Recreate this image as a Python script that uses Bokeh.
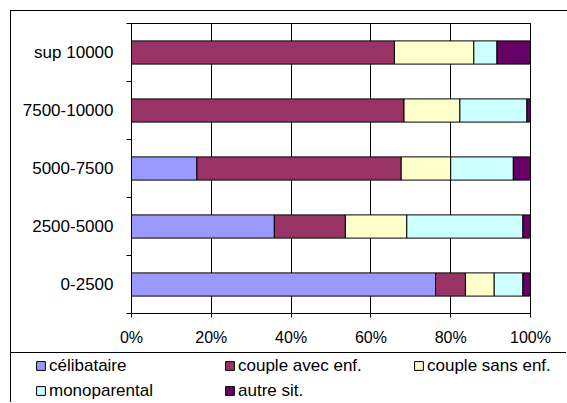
from bokeh.plotting import figure
from bokeh.layouts import column
from bokeh.models import (ColumnDataSource, FixedTicker, Legend, LegendItem,
                          Range1d, PrintfTickFormatter, LinearAxis)
from bokeh.embed import file_html
from bokeh.resources import INLINE

categories = ["0-2500", "2500-5000", "5000-7500", "7500-10000", "sup 10000"]
series = ["célibataire", "couple avec enf.", "couple sans enf.", "monoparental", "autre sit."]
celibataire = [76.2, 35.8, 16.4, 0.0, 0.0]
couple_avec = [7.5, 17.8, 51.2, 68.3, 65.9]
couple_sans = [7.2, 15.4, 12.4, 14.0, 19.9]
monoparental = [7.2, 29.1, 15.7, 16.8, 5.8]
autre = [1.9, 1.9, 4.3, 0.9, 8.4]
x_ticks = [0, 20, 40, 60, 80, 100]
colors = ["#9999FF", "#993366", "#FFFFCC", "#CCFFFF", "#660066"]

FONT = "Liberation Sans"

ypos = [i + 0.5 for i in range(len(categories))]
keys = ["s0", "s1", "s2", "s3", "s4"]
source = ColumnDataSource(dict(y=ypos, s0=celibataire, s1=couple_avec, s2=couple_sans,
                               s3=monoparental, s4=autre))

p = figure(width=556, height=341, output_backend="svg", toolbar_location=None,
           x_range=Range1d(0, 100), y_range=Range1d(0, len(categories)),
           min_border_left=120, min_border_right=37, min_border_top=12, min_border_bottom=39)
p.background_fill_color = "white"
p.border_fill_color = "white"
p.outline_line_color = "black"
p.outline_line_width = 1

p.hbar_stack(keys, y="y", height=0.4, color=colors, line_color="black",
             line_width=1, source=source)

# x axis
p.xaxis.ticker = FixedTicker(ticks=x_ticks, minor_ticks=[])
p.xaxis.formatter = PrintfTickFormatter(format="%d%%")
p.xaxis.axis_line_color = "black"
p.xaxis.major_tick_line_color = "black"
p.xaxis.major_tick_out = 4
p.xaxis.major_tick_in = 0
p.xaxis.major_label_standoff = 11
p.xaxis.major_label_text_font = FONT
p.xaxis.major_label_text_font_size = "16px"
p.xaxis.major_label_text_color = "black"

# y axis: labels at centres, tick marks at boundaries
p.yaxis.ticker = FixedTicker(ticks=ypos, minor_ticks=list(range(len(categories) + 1)))
p.yaxis.major_label_overrides = {y: c for y, c in zip(ypos, categories)}
p.yaxis.major_tick_line_color = None
p.yaxis.major_tick_out = 0
p.yaxis.major_tick_in = 0
p.yaxis.minor_tick_line_color = "black"
p.yaxis.minor_tick_out = 5
p.yaxis.minor_tick_in = 0
p.yaxis.axis_line_color = "black"
p.yaxis.major_label_standoff = 13
p.yaxis.major_label_text_font = FONT
p.yaxis.major_label_text_font_size = "17px"
p.yaxis.major_label_text_color = "black"

# vertical grid lines
p.xgrid.ticker = FixedTicker(ticks=x_ticks)
p.xgrid.grid_line_color = "black"
p.xgrid.grid_line_width = 1
p.ygrid.grid_line_color = None

# plain axis lines closing the plot area on the top and right
for side in ("above", "right"):
    ax = LinearAxis(ticker=FixedTicker(ticks=[]), axis_line_color="black",
                    major_tick_line_color=None, minor_tick_line_color=None,
                    major_tick_out=0, major_tick_in=0, minor_tick_out=0, minor_tick_in=0,
                    major_label_text_font_size="0px", major_label_standoff=0)
    p.add_layout(ax, side)

chart = column(p, styles={"margin-left": "10px", "margin-top": "10px",
                          "border-left": "1px solid black", "border-top": "1px solid black"})

# legend panel: separate root below the chart, framed by CSS border
lg = figure(width=556, height=50, output_backend="svg", toolbar_location=None,
            x_range=Range1d(0, 100), y_range=Range1d(-20, -10),
            x_axis_location=None, y_axis_location=None,
            min_border=0, min_border_left=0, min_border_right=0,
            min_border_top=0, min_border_bottom=0,
            styles={"display": "block", "margin-left": "10px",
                    "border-left": "1px solid black", "border-top": "1px solid black"})
lg.outline_line_color = None
lg.grid.grid_line_color = None
lg.background_fill_color = "white"
lg.border_fill_color = "white"
# same data drawn outside the visible range so that only the legend shows
lrends = lg.hbar_stack(keys, y="y", height=0.4, color=colors, line_color="black",
                       line_width=1, source=source)
items = [LegendItem(label=s, renderers=[r]) for s, r in zip(series, lrends)]
legend = Legend(items=items, location=(24, 0), orientation="horizontal", ncols=3,
                glyph_width=11, glyph_height=11, label_standoff=3, label_width=175,
                label_height=25, spacing=0, padding=0, margin=0,
                border_line_color=None, background_fill_alpha=0,
                label_text_font=FONT, label_text_font_size="17px",
                label_text_color="black")
lg.add_layout(legend)

open("out.html", "w").write(file_html([chart, lg], INLINE))
